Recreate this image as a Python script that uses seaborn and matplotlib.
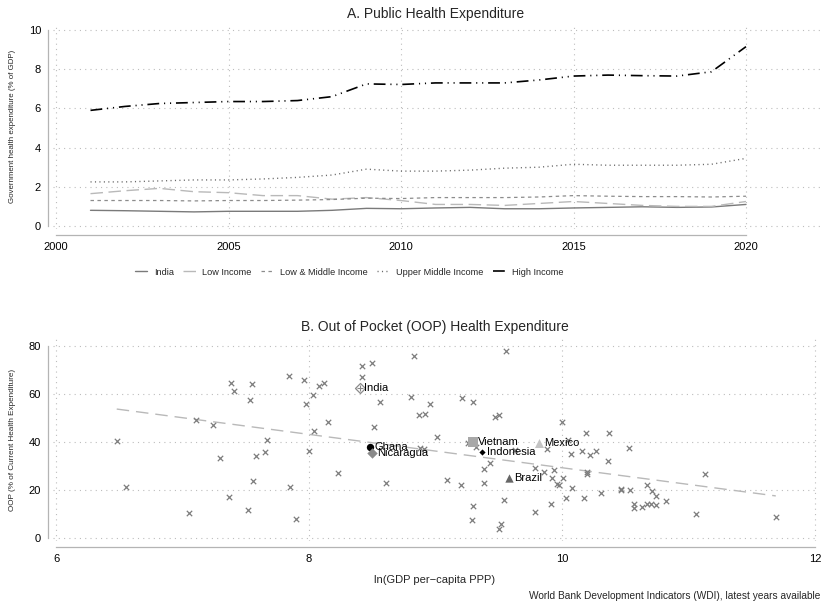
import numpy as np
import pandas as pd
import matplotlib
matplotlib.use("Agg")
import matplotlib.pyplot as plt
from matplotlib.lines import Line2D
import seaborn as sns

# ---------------- data: panel A ----------------
years = list(range(2001, 2021))
india = [0.80, 0.78, 0.75, 0.72, 0.75, 0.75, 0.75, 0.80, 0.90, 0.88,
         0.92, 0.95, 0.88, 0.88, 0.92, 0.95, 0.98, 0.95, 0.97, 1.10]
low_income = [1.65, 1.80, 1.92, 1.75, 1.70, 1.55, 1.55, 1.37, 1.45, 1.30,
              1.10, 1.10, 1.05, 1.15, 1.25, 1.15, 1.05, 1.00, 1.00, 1.25]
low_middle = [1.30, 1.30, 1.30, 1.28, 1.30, 1.30, 1.32, 1.35, 1.42, 1.40,
              1.45, 1.45, 1.45, 1.48, 1.55, 1.52, 1.50, 1.50, 1.48, 1.52]
upper_middle = [2.25, 2.25, 2.30, 2.35, 2.35, 2.40, 2.48, 2.60, 2.90, 2.80,
                2.80, 2.85, 2.95, 3.00, 3.15, 3.10, 3.10, 3.10, 3.15, 3.45]
high_income = [5.90, 6.10, 6.25, 6.30, 6.35, 6.35, 6.40, 6.60, 7.25, 7.22,
               7.30, 7.30, 7.30, 7.45, 7.65, 7.70, 7.67, 7.65, 7.87, 9.15]
series_names = ["India", "Low Income", "Low & Middle Income",
                "Upper Middle Income", "High Income"]

# ---------------- data: panel B ----------------
oop_lngdp = [6.48, 6.55, 7.05, 7.11, 7.24, 7.30, 7.37, 7.38, 7.41, 7.52,
             7.53, 7.55, 7.56, 7.58, 7.65, 7.67, 7.84, 7.85, 7.90, 7.96,
             7.98, 8.00, 8.03, 8.04, 8.08, 8.12, 8.15, 8.23, 8.42, 8.42,
             8.50, 8.51, 8.56, 8.61, 8.83, 8.81, 8.87, 8.92, 8.96, 9.01,
             9.09, 8.88, 8.91, 9.56, 9.21, 9.30, 9.47, 9.50, 10.00, 10.19,
             10.37, 10.53, 10.05, 9.26, 9.32, 9.88, 10.07, 10.16, 10.22, 10.27,
             10.36, 9.38, 9.43, 9.79, 9.86, 9.94, 9.92, 10.01, 9.96, 9.98,
             10.20, 10.20, 9.20, 9.38, 10.08, 10.31, 10.47, 10.47, 10.54, 10.67,
             9.54, 9.30, 9.91, 10.03, 10.17, 9.79, 9.29, 9.52, 9.50, 10.57,
             10.57, 10.63, 10.67, 10.70, 10.74, 10.71, 10.74, 10.82, 11.13, 11.06,
             11.69, 9.63]
oop_share = [40.4, 21.3, 10.5, 49.2, 47.0, 33.5, 17.0, 64.7, 61.3, 11.5,
             57.6, 64.2, 23.6, 34.3, 36.0, 40.8, 67.4, 21.1, 8.0, 65.7,
             55.7, 36.4, 59.5, 44.7, 63.3, 64.7, 48.5, 27.1, 71.7, 67.2,
             73.0, 46.1, 56.7, 23.0, 76.0, 58.8, 51.4, 51.8, 55.7, 42.1,
             24.2, 37.4, 37.2, 78.0, 58.3, 56.7, 50.4, 51.3, 48.3, 43.6,
             43.9, 37.4, 40.7, 39.7, 37.9, 37.1, 35.0, 36.1, 34.6, 36.3,
             32.1, 28.9, 31.1, 29.0, 27.4, 28.5, 24.9, 24.9, 22.6, 22.2,
             27.5, 26.6, 22.0, 23.0, 20.8, 18.6, 20.4, 20.0, 19.9, 21.9,
             15.8, 13.5, 14.2, 16.5, 16.7, 10.8, 7.5, 6.0, 3.8, 14.3,
             12.4, 12.9, 14.0, 14.2, 13.8, 19.6, 17.4, 15.4, 26.7, 10.0,
             8.6, 36.7]
hl_names = ["India", "Ghana", "Nicaragua", "Vietnam", "Indonesia", "Mexico", "Brazil"]
hl_lngdp = [8.40, 8.48, 8.50, 9.30, 9.37, 9.82, 9.58]
hl_oop = [62.5, 38.0, 35.5, 39.9, 35.8, 39.4, 25.0]

# ---------------- style ----------------
sns.set_style("white")
plt.rcParams["font.family"] = ["Liberation Sans", "DejaVu Sans"]
plt.rcParams["lines.scale_dashes"] = False

W, H = 824, 602
fig = plt.figure(figsize=(W / 100, H / 100), dpi=100, facecolor="white")


def px_axes(l, t, r, b):
    return fig.add_axes([l / W, 1 - b / H, (r - l) / W, (b - t) / H])


AXC = "#b4b4b4"


def style_axes(ax, xb, yb):
    for s in ["top", "right"]:
        ax.spines[s].set_visible(False)
    ax.spines["left"].set_position(("outward", 5 * 0.72))
    ax.spines["bottom"].set_position(("outward", 6 * 0.72))
    ax.spines["left"].set_bounds(*yb)
    ax.spines["bottom"].set_bounds(*xb)
    for s in ["left", "bottom"]:
        ax.spines[s].set_color(AXC)
        ax.spines[s].set_linewidth(0.9)
    ax.tick_params(length=3, width=0.8, color=AXC, labelsize=8, pad=2,
                   labelcolor="black")
    ax.grid(True, ls=(0, (0.8, 3)), color="#bdbdbd", lw=0.8)
    ax.set_axisbelow(True)
    ax.set_facecolor("white")


# ---------------- panel A ----------------
ax1 = px_axes(53, 24, 822, 229)
dfA = pd.DataFrame({
    "year": years * 5,
    "value": india + low_income + low_middle + upper_middle + high_income,
    "series": sum([[n] * len(years) for n in series_names], []),
})
palette = {"India": "#7a7a7a", "Low Income": "#b9b9b9",
           "Low & Middle Income": "#8c8c8c", "Upper Middle Income": "#6a6a6a",
           "High Income": "#000000"}
dashes = {"India": "",
          "Low Income": (9, 4),
          "Low & Middle Income": (2.5, 2.5),
          "Upper Middle Income": (0.8, 2.4),
          "High Income": (8.5, 3.5, 0.8, 3.5, 0.8, 3.5)}
widths = {"India": 1.0, "Low Income": 1.0, "Low & Middle Income": 0.9,
          "Upper Middle Income": 1.0, "High Income": 1.2}
sns.lineplot(data=dfA, x="year", y="value", hue="series", style="series",
             hue_order=series_names, style_order=series_names,
             palette=palette, dashes=dashes, legend=False, ax=ax1, lw=1.0)
for ln, n in zip(ax1.lines, series_names):
    ln.set_linewidth(widths[n])

ax1.set_xlim(2000 - 3 / 34.5, 2000 + 766 / 34.5)
ax1.set_ylim(-3 / 19.6, 10 + 6 / 19.6)
ax1.set_xticks([2000, 2005, 2010, 2015, 2020])
ax1.set_yticks([0, 2, 4, 6, 8, 10])
style_axes(ax1, (2000, 2020), (0, 10))
ax1.set_xlabel("")
ax1.set_ylabel("Government health expenditure (% of GDP)", fontsize=5.7,
               labelpad=9)
ax1.set_title("A. Public Health Expenditure", fontsize=10, pad=4, x=0.497)

handles = []
for n in series_names:
    if dashes[n]:
        handles.append(Line2D([], [], color=palette[n], lw=widths[n],
                              linestyle=(0, dashes[n])))
    else:
        handles.append(Line2D([], [], color=palette[n], lw=widths[n],
                              linestyle="-"))
fig.legend(handles, series_names, loc="center",
           bbox_to_anchor=(349 / W, 1 - 272 / H), ncol=5, frameon=False,
           prop={"size": 6.6}, handlelength=1.4,
           columnspacing=1.0, handletextpad=0.7)

# ---------------- panel B ----------------
ax2 = px_axes(53, 339, 817, 541)
all_x = oop_lngdp + hl_lngdp
all_y = oop_share + hl_oop
dfB = pd.DataFrame({"lngdp": oop_lngdp, "oop": oop_share})
dfAll = pd.DataFrame({"lngdp": all_x, "oop": all_y})
sns.regplot(data=dfAll, x="lngdp", y="oop", scatter=False, ci=None,
            truncate=True, ax=ax2,
            line_kws={"color": "#b9b9b9", "lw": 1.0, "dashes": (9, 5)})
sns.scatterplot(data=dfB, x="lngdp", y="oop", marker="x", color="#7d7d7d",
                s=15, linewidth=0.9, ax=ax2, zorder=3)

hl_style = {
    "India": dict(marker="D", s=26, facecolor="white", edgecolor="#8a8a8a", linewidth=0.9),
    "Ghana": dict(marker="o", s=28, color="black", linewidth=0),
    "Nicaragua": dict(marker="D", s=28, color="#8a8a8a", linewidth=0),
    "Vietnam": dict(marker="s", s=42, color="#a8a8a8", linewidth=0),
    "Indonesia": dict(marker="D", s=10, color="black", linewidth=0),
    "Mexico": dict(marker="^", s=42, color="#c4c4c4", linewidth=0),
    "Brazil": dict(marker="^", s=36, color="#666666", linewidth=0),
}
for n, xv, yv in zip(hl_names, hl_lngdp, hl_oop):
    sns.scatterplot(x=[xv], y=[yv], ax=ax2, zorder=4, legend=False, **hl_style[n])
    if n == "India":
        sns.scatterplot(x=[xv], y=[yv], ax=ax2, zorder=5, marker="+", s=16,
                        color="#8a8a8a", linewidth=0.8, legend=False)
    ax2.annotate(n, (xv, yv), xytext=(3.5, 0), textcoords="offset points",
                 va="center", ha="left", fontsize=8, color="black", zorder=6)

ax2.set_xlim(6 - 3 / 126.5, 6 + 761 / 126.5)
ax2.set_ylim(-3 / 2.4, 80 + 7 / 2.4)
ax2.set_xticks([6, 8, 10, 12])
ax2.set_yticks([0, 20, 40, 60, 80])
style_axes(ax2, (6, 12), (0, 80))
ax2.set_xlabel("ln(GDP per\u2212capita PPP)", fontsize=8, labelpad=8)
ax2.set_ylabel("OOP (% of Current Health Expenditure)", fontsize=5.9,
               labelpad=9)
ax2.set_title("B. Out of Pocket (OOP) Health Expenditure", fontsize=10, pad=6)

fig.text(820 / W, 1 - 596 / H,
         "World Bank Development Indicators (WDI), latest years available",
         ha="right", va="center", fontsize=7.3)

fig.savefig("out.png", dpi=100, facecolor="white")
